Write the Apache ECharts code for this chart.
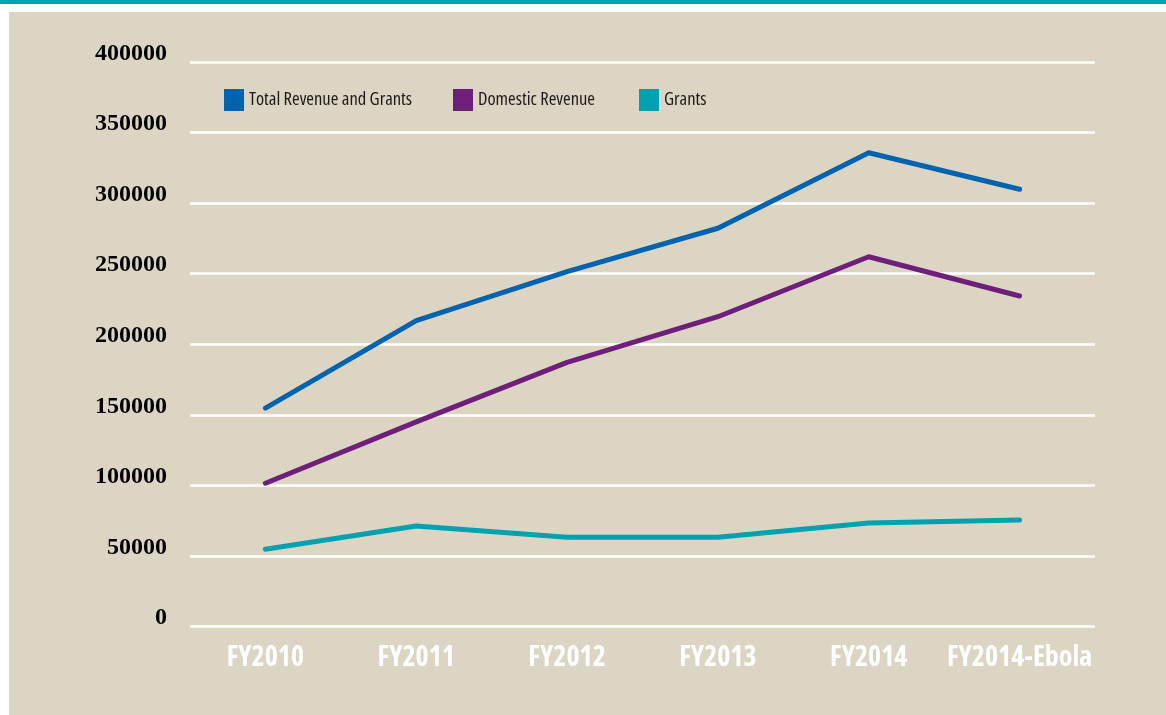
<!DOCTYPE html>
<html>
<head>
<meta charset="utf-8">
<script src="https://cdn.jsdelivr.net/npm/echarts@6/dist/echarts.min.js"></script>
<style>
html,body{margin:0;padding:0;background:#fff;}
#chart{width:1166px;height:715px;}
</style>
</head>
<body>
<div id="chart"></div>
<script>
var categories = ['FY2010', 'FY2011', 'FY2012', 'FY2013', 'FY2014', 'FY2014-Ebola'];
var totalRevenueAndGrants = [154800, 216700, 251400, 282200, 335700, 309800];
var domesticRevenue = [101500, 145000, 187200, 219500, 262000, 234200];
var grants = [54700, 71200, 63200, 63200, 73300, 75500];
var seriesNames = ['Total Revenue and Grants', 'Domestic Revenue', 'Grants'];

var condensed = '"Open Sans", "Roboto Condensed", sans-serif';
var legendLefts = [224, 453, 639];

var chart = echarts.init(document.getElementById('chart'), null, {renderer: 'canvas'});
var colors = ['#0063ae', '#6e1f7a', '#00a2b0'];

chart.setOption({
  backgroundColor: '#ffffff',
  animation: false,
  color: colors,
  graphic: [
    {type: 'rect', z: -10, shape: {x: 0, y: 0, width: 1166, height: 4}, style: {fill: '#00a3b1'}, silent: true},
    {type: 'rect', z: -10, shape: {x: 9, y: 12, width: 1157, height: 703}, style: {fill: '#ddd5c3'}, silent: true}
  ],
  legend: seriesNames.map(function (name, i) {
    return {
      left: legendLefts[i],
      top: 89,
      padding: 0,
      itemWidth: 20,
      itemHeight: 22,
      itemGap: 0,
      icon: 'rect',
      selectedMode: false,
      textStyle: {fontFamily: condensed, fontStyle: 'condensed', fontSize: 18.5, color: '#1a1a1a'},
      data: [name]
    };
  }),
  grid: {left: 190, right: 71, top: 62, bottom: 88.5, containLabel: false},
  xAxis: {
    type: 'category',
    data: categories,
    boundaryGap: true,
    axisLine: {show: false},
    axisTick: {show: false},
    axisLabel: {
      color: '#ffffff',
      fontFamily: condensed,
      fontStyle: 'condensed',
      fontWeight: 'bold',
      fontSize: 28,
      margin: 18,
      interval: 0
    }
  },
  yAxis: {
    type: 'value',
    min: 0,
    max: 400000,
    interval: 50000,
    axisLine: {show: false},
    axisTick: {show: false},
    splitLine: {lineStyle: {color: '#ffffff', width: 2.5}},
    axisLabel: {
      color: '#000000',
      fontFamily: '"Liberation Serif", "DejaVu Serif", serif',
      fontWeight: 'bold',
      fontSize: 24,
      margin: 23,
      verticalAlign: 'bottom',
      lineHeight: 17,
      formatter: function (v) { return String(v); }
    }
  },
  series: [
    {name: seriesNames[0], type: 'line', data: totalRevenueAndGrants, symbol: 'none', lineStyle: {width: 5, cap: 'round', join: 'round'}},
    {name: seriesNames[1], type: 'line', data: domesticRevenue, symbol: 'none', lineStyle: {width: 5, cap: 'round', join: 'round'}},
    {name: seriesNames[2], type: 'line', data: grants, symbol: 'none', lineStyle: {width: 5, cap: 'round', join: 'round'}}
  ]
});
</script>
</body>
</html>
